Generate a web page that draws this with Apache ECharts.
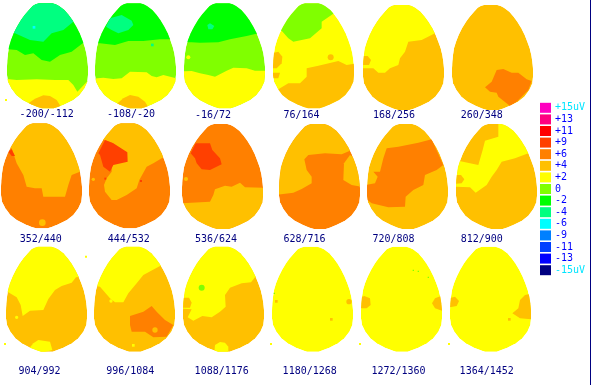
<!DOCTYPE html>
<html><head><meta charset="utf-8">
<style>html,body{margin:0;padding:0;background:#fff}#c{width:591px;height:385px}</style>
<script src="https://cdn.jsdelivr.net/npm/echarts@6/dist/echarts.min.js"></script>
</head><body><div id="c"></div>
<script>
// Colour scale
const levelLabels = ['+15uV','+13','+11','+9','+6','+4','+2','0','-2','-4','-6','-9','-11','-13','-15uV'];
const levelColors = ['#ff00c0','#ff0080','#ff0000','#ff4000','#ff8000','#ffc000','#ffff00','#80ff00','#00ff00','#00ff80','#00ffff','#0080ff','#0040ff','#0000ff','#000080'];
const L = {p9:3,p6:4,p4:5,p2:6,z:7,m2:8,m4:9,m6:10};

const panelLabels = ['-200/-112','-108/-20','-16/72','76/164','168/256','260/348','352/440','444/532','536/624','628/716','720/808','812/900','904/992','996/1084','1088/1176','1180/1268','1272/1360','1364/1452'];

// Egg outline: [y, left, right] in units of 1/3 pixel
const eggRows = [[0,96,136],[3,86,146],[8,77,156],[20,66,172],[35,53,185],[50,42,196],[70,30,208],[90,20,218],[110,12,226],[130,6,233],[150,3,238],[170,1,241],[190,0,243],[215,0,243],[235,3,241],[255,13,232],[275,28,217],[290,47,198],[303,72,172],[311,92,152],[315,105,140]];

// Per panel: base level and stacked regions [level, outline]
const p1Base = L.z;
const p1Regions = [
 [L.m2,[[0,148],[25,148],[50,150],[75,165],[100,160],[125,180],[150,185],[180,165],[215,155],[248,130],[270,130],[270,0],[0,0]]],
 [L.m4,[[0,100],[45,100],[90,120],[130,125],[155,100],[190,90],[220,65],[270,65],[270,0],[0,0]]],
 [L.p2,[[0,235],[50,240],[110,238],[165,240],[205,240],[220,255],[232,275],[245,262],[270,235],[270,340],[0,340]]],
 [L.p4,[[85,340],[85,310],[105,296],[130,286],[150,288],[170,300],[180,316],[180,340]]]];
const p1Spots = [[102,82,4,L.m6],[18,300,3,L.p2]];

const p2Base = L.z;
const p2Regions = [
 [L.m2,[[270,130],[300,130],[345,135],[385,123],[430,123],[480,118],[530,118],[540,0],[270,0]]],
 [L.m4,[[318,80],[330,55],[365,45],[395,62],[400,75],[385,90],[355,100],[335,90]]],
 [L.p2,[[270,237],[310,233],[340,237],[365,235],[390,215],[440,217],[455,228],[470,232],[490,225],[530,235],[540,340],[270,340]]],
 [L.p4,[[345,340],[350,312],[370,295],[390,285],[415,290],[435,305],[447,325],[447,340]]]];
const p2Spots = [[457,135,4,L.m4]];

const p3Base = L.z;
const p3Regions = [
 [L.m2,[[0,127],[50,127],[75,128],[130,127],[165,118],[215,108],[250,100],[280,100],[280,0],[0,0]]],
 [L.m4,[[97,75],[105,70],[118,78],[112,88],[100,88]]],
 [L.p2,[[0,215],[50,213],[75,220],[100,225],[120,230],[155,212],[175,203],[215,205],[240,212],[275,212],[275,340],[0,340]]]];
const p3Spots = [[40,172,6,L.p2]];

const p4Base = L.p2;
const p4Regions = [
 [L.z,[[300,92],[320,92],[340,115],[355,125],[405,115],[440,85],[440,65],[477,40],[490,0],[300,0]]],
 [L.p4,[[310,268],[340,250],[375,250],[395,230],[395,205],[430,197],[490,183],[515,195],[545,190],[545,340],[290,340]]],
 [L.p4,[[290,160],[310,155],[322,170],[320,190],[305,205],[290,205]]],
 [L.p4,[[290,218],[315,218],[310,235],[290,235]]]];
const p4Spots = [[467,172,9,L.p4]];

const p5Base = L.p4;
const p5Regions = [
 [L.p2,[[0,205],[55,205],[70,218],[90,218],[105,205],[130,195],[135,175],[150,155],[160,125],[200,120],[240,100],[270,100],[270,0],[0,0]]],
 [L.p4,[[20,168],[38,168],[48,180],[42,195],[20,195]]]];
const p5Spots = [];

const p6Base = L.p4;
const p6Regions = [
 [L.p6,[[390,262],[410,245],[425,210],[445,207],[470,218],[490,218],[515,238],[530,243],[520,270],[485,305],[465,318],[430,290],[425,278],[405,275]]]];
const p6Spots = [];

const p7Base = L.p6;
const p7Regions = [
 [L.p4,[[0,85],[35,85],[50,130],[70,165],[80,200],[105,205],[125,205],[130,230],[195,230],[205,195],[215,165],[240,155],[260,155],[260,0],[0,0]]],
 [L.p9,[[25,95],[35,88],[45,108],[35,108]]]];
const p7Spots = [[127,308,10,L.p4]];

const p8Base = L.p6;
const p8Regions = [
 [L.p4,[[300,60],[315,60],[340,70],[335,155],[320,175],[312,195],[315,215],[335,240],[350,240],[380,225],[410,205],[418,180],[440,140],[460,130],[490,112],[520,105],[520,0],[300,0]]],
 [L.p9,[[295,100],[315,60],[340,70],[382,97],[383,125],[340,135],[330,155],[310,140],[300,105]]]];
const p8Spots = [[280,178,5,L.p4],[316,176,3,L.p9],[423,183,3,L.p9]];

const p9Base = L.p6;
const p9Regions = [
 [L.p4,[[20,250],[105,245],[115,225],[120,208],[150,197],[170,200],[195,188],[210,202],[270,203],[270,340],[20,340]]],
 [L.p9,[[47,100],[62,70],[105,70],[112,90],[135,115],[140,133],[105,150],[80,148],[65,130],[60,115]]]];
const p9Spots = [[33,177,6,L.p4]];

const p10Base = L.p6;
const p10Regions = [
 [L.p4,[[300,225],[355,218],[380,207],[410,190],[410,170],[395,150],[388,118],[400,105],[450,100],[500,103],[525,92],[560,92],[560,0],[300,0]]],
 [L.p4,[[560,125],[525,105],[507,130],[505,180],[530,195],[560,200]]]];
const p10Spots = [];

const p11Base = L.p4;
const p11Regions = [
 [L.p6,[[30,195],[60,190],[68,170],[55,155],[75,155],[85,115],[95,85],[130,80],[190,68],[230,58],[265,135],[245,150],[210,165],[205,195],[175,210],[152,230],[150,260],[100,262],[50,250],[30,235]]]];
const p11Spots = [];

const p12Base = L.p4;
const p12Regions = [
 [L.p2,[[290,118],[345,130],[370,135],[383,90],[390,62],[430,50],[430,0],[560,0],[560,100],[520,100],[480,115],[440,125],[425,150],[410,170],[395,195],[362,218],[345,202],[290,200]]],
 [L.p4,[[295,165],[318,165],[328,178],[320,190],[295,192]]]];
const p12Spots = [];

const p13Base = L.p4;
const p13Regions = [
 [L.p2,[[0,157],[25,157],[50,172],[62,195],[68,228],[90,212],[130,210],[145,177],[165,150],[185,138],[215,128],[228,112],[245,110],[270,110],[270,0],[0,0]]],
 [L.p2,[[88,325],[100,310],[115,300],[150,305],[157,330],[120,340],[95,335]]]];
const p13Spots = [[50,232,5,L.p2],[258,50,3,L.p2],[15,312,3,L.p2]];

const p14Base = L.p4;
const p14Regions = [
 [L.p2,[[270,135],[300,140],[330,175],[345,187],[370,187],[385,160],[410,130],[430,105],[480,78],[510,78],[510,0],[270,0]]],
 [L.p6,[[390,228],[430,215],[455,198],[470,215],[495,240],[520,255],[500,290],[460,292],[435,275],[395,275],[390,255]]]];
const p14Spots = [[465,270,8,L.p4],[400,316,4,L.p2],[333,183,5,L.p2]];

const p15Base = L.p4;
const p15Regions = [
 [L.p2,[[0,204],[50,208],[38,232],[55,242],[82,228],[110,232],[135,215],[152,200],[150,165],[165,143],[200,130],[228,127],[240,112],[270,110],[270,0],[0,0]]],
 [L.p4,[[20,173],[42,173],[50,188],[45,203],[20,203]]],
 [L.p2,[[118,340],[120,315],[135,306],[150,308],[160,320],[160,340]]]];
const p15Spots = [[80,143,9,L.z]];

const p16Base = L.p2;
const p16Regions = [];
const p16Spots = [[304,184,4,L.p4],[522,185,8,L.p4],[469,238,4,L.p4],[298,160,2,L.z],[288,312,3,L.p2]];

const p17Base = L.p2;
const p17Regions = [
 [L.p4,[[10,205],[10,175],[28,168],[45,175],[47,195],[35,205]]],
 [L.p4,[[270,215],[240,205],[231,190],[240,175],[258,168],[270,170]]]];
const p17Spots = [[175,91,2,L.z],[190,94,2,L.z],[220,112,2,L.z],[15,312,3,L.p2]];

const p18Base = L.p2;
const p18Regions = [
 [L.p4,[[280,203],[280,175],[300,170],[312,183],[305,198]]],
 [L.p4,[[535,160],[510,165],[495,180],[490,205],[472,220],[495,235],[535,238]]]];
const p18Spots = [[463,238,4,L.p4],[282,312,3,L.p2]];

const bases = [p1Base,p2Base,p3Base,p4Base,p5Base,p6Base,p7Base,p8Base,p9Base,p10Base,p11Base,p12Base,p13Base,p14Base,p15Base,p16Base,p17Base,p18Base];
const regions = [p1Regions,p2Regions,p3Regions,p4Regions,p5Regions,p6Regions,p7Regions,p8Regions,p9Regions,p10Regions,p11Regions,p12Regions,p13Regions,p14Regions,p15Regions,p16Regions,p17Regions,p18Regions];
const spots = [p1Spots,p2Spots,p3Spots,p4Spots,p5Spots,p6Spots,p7Spots,p8Spots,p9Spots,p10Spots,p11Spots,p12Spots,p13Spots,p14Spots,p15Spots,p16Spots,p17Spots,p18Spots];

// Layout of panels
const EGG_W = 243, EGG_H = 315;
const panelLeft = [7,95,184,273,363,452, 1,89,182,279,367,456, 6,94,183,272,361,450];
const panelTop  = [3.3,3.3,3.3,3.3,5,5, 123.3,123.3,124,124,124,124, 246.7,246.7,246.7,246.7,246.7,246.7];
const dataOriginX = [21,285,27,294,24,291, 3,267,21,312,36,303, 18,282,24,291,18,285];
const dataOriginY = [10,10,10,10,15,15, 10,10,12,12,12,12, 20,20,20,20,20,20];
const labelCx = [46.7,131,213,301.5,394,481.7, 40.8,128.8,216,304.5,393.5,481.7, 39.5,130.3,221.7,309.7,398.5,486.7];
const labelCy = [114.7,114.7,115,115,115,115, 239.5,239.5,239.5,239.5,239.5,239.5, 371,371,371,371,371,371];

const eggLocal = eggRows.map(r=>[r[1],r[0]]).concat(eggRows.slice().reverse().map(r=>[r[2],r[0]]));

const grid=[], xAxis=[], yAxis=[], series=[], graphic=[];
bases.forEach((base,i)=>{
  const ox=dataOriginX[i], oy=dataOriginY[i];
  grid.push({left:panelLeft[i],top:panelTop[i],width:EGG_W/3,height:EGG_H/3,show:false});
  xAxis.push({type:'value',gridIndex:i,min:ox,max:ox+EGG_W,show:false});
  yAxis.push({type:'value',gridIndex:i,min:oy,max:oy+EGG_H,inverse:true,show:false});
  const egg = eggLocal.map(p=>[p[0]+ox,p[1]+oy]);
  const layers = [[base,egg]].concat(regions[i]);
  series.push({type:'custom',coordinateSystem:'cartesian2d',xAxisIndex:i,yAxisIndex:i,silent:true,animation:false,
    data:layers.map((l,k)=>[k]),
    renderItem:(params,api)=>{
      const l=layers[api.value(0)];
      return {type:'polygon',shape:{points:l[1].map(p=>api.coord(p))},
        style:{fill:levelColors[l[0]],stroke:null},
        clipPath:{type:'polygon',shape:{points:egg.map(p=>api.coord(p))}}};
    }});
  const sp=spots[i];
  series.push({type:'custom',coordinateSystem:'cartesian2d',xAxisIndex:i,yAxisIndex:i,silent:true,animation:false,
    data:sp.map(s=>s.slice()),
    renderItem:(params,api)=>{
      const c=api.coord([api.value(0),api.value(1)]), r=api.value(2)/3;
      return {type:r>=1.5?'circle':'rect',
        shape:r>=1.5?{cx:c[0],cy:c[1],r:r}:{x:c[0]-r,y:c[1]-r,width:2*r,height:2*r},
        style:{fill:levelColors[api.value(3)]}};
    }});
  graphic.push({type:'text',silent:true,x:labelCx[i],y:labelCy[i],
    style:{text:panelLabels[i],align:'center',verticalAlign:'middle',fill:'#000080',font:'10px "DejaVu Sans Mono"'}});
});

// Colour scale as a bar chart with axis labels
const lg = bases.length;
grid.push({left:540,top:102,width:11,height:174,show:false});
xAxis.push({type:'value',gridIndex:lg,min:0,max:1,show:false});
yAxis.push({type:'category',gridIndex:lg,inverse:true,position:'right',data:levelLabels,
  axisLine:{show:false},axisTick:{show:false},splitLine:{show:false},
  axisLabel:{interval:0,margin:4,fontSize:10,fontFamily:'DejaVu Sans Mono',align:'left',
    color:v=>v.indexOf('15')>=0?'#00e5ff':'#0000ff'}});
series.push({type:'bar',xAxisIndex:lg,yAxisIndex:lg,silent:true,animation:false,barWidth:10,
  data:levelColors.map(c=>({value:1,itemStyle:{color:c}}))});

graphic.push({type:'rect',silent:true,shape:{x:590,y:0,width:1,height:385},style:{fill:'#000080'}});

const chart=echarts.init(document.getElementById('c'),null,{renderer:'canvas'});
chart.setOption({animation:false,backgroundColor:'#fff',grid,xAxis,yAxis,series,graphic});
</script></body></html>
